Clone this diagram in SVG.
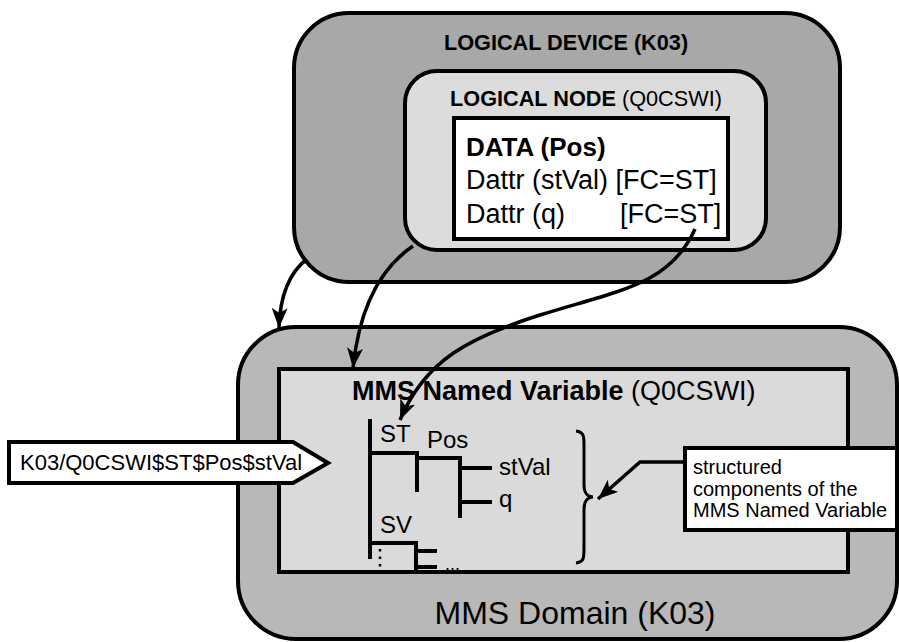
<svg xmlns="http://www.w3.org/2000/svg" width="899" height="642" viewBox="0 0 899 642">
<defs>
<style>
text{font-family:"Liberation Sans",Arial,Helvetica,sans-serif;fill:#000}
.b{font-weight:bold}
.box{stroke:#000;stroke-width:4}
.ln{fill:none;stroke:#000;stroke-width:4}
.con{fill:none;stroke:#000;stroke-width:3.5}
</style>
<marker id="ah" markerUnits="userSpaceOnUse" markerWidth="22" markerHeight="16" refX="20" refY="8" orient="auto">
<path d="M0,0 L20,8 L0,16 L5,8 Z" fill="#000"/>
</marker>
</defs>
<rect width="899" height="642" fill="#fff"/>

<g id="logical-device">
<rect class="box" x="294" y="13" width="546" height="269" rx="55" ry="55" fill="#a8a8a8"/>
<text class="b" x="566" y="50" font-size="21.7" text-anchor="middle">LOGICAL DEVICE (K03)</text>
</g>

<g id="logical-node">
<rect class="box" x="405" y="71" width="361" height="179" rx="32" ry="32" fill="#dcdcdc"/>
<text x="586" y="106" font-size="21.7" text-anchor="middle"><tspan class="b">LOGICAL NODE</tspan> (Q0CSWI)</text>
</g>

<g id="data">
<rect class="box" x="454" y="118" width="274" height="121" fill="#fff"/>
<text class="b" x="466" y="156" font-size="26">DATA (Pos)</text>
<text x="466" y="189" font-size="27">Dattr (stVal) [FC=ST]</text>
<text x="466" y="223" font-size="27">Dattr (q)</text>
<text x="620" y="223" font-size="27">[FC=ST]</text>
</g>

<g id="mms-domain">
<rect class="box" x="238" y="327" width="659" height="312" rx="58" ry="58" fill="#b8b8b8"/>
<text x="575" y="624" font-size="32" text-anchor="middle">MMS Domain (K03)</text>
</g>

<g id="mms-named-variable">
<rect class="box" x="279" y="369" width="569" height="203" fill="#dadada"/>
<text x="352" y="400" font-size="27"><tspan class="b">MMS Named Variable</tspan> (Q0CSWI)</text>
<g id="tree">
<path class="ln" d="M370,419 V559"/>
<path class="ln" d="M370,453 H417 V492"/>
<path class="ln" d="M417,458 H460 V518"/>
<path class="ln" d="M460,468 H492"/>
<path class="ln" d="M460,502 H492"/>
<path class="ln" d="M370,543 H416 V571"/>
<path class="ln" d="M416,551 H437"/>
<path class="ln" d="M416,567 H437"/>
<path d="M380,549 V568" fill="none" stroke="#000" stroke-width="2.5" stroke-dasharray="2.5,5"/>
<text x="380" y="442" font-size="24">ST</text>
<text x="427" y="448" font-size="24">Pos</text>
<text x="499" y="475" font-size="24">stVal</text>
<text x="499" y="507" font-size="24">q</text>
<text x="380" y="533" font-size="24">SV</text>
<text x="445" y="570" font-size="18">...</text>
</g>
<path d="M576,431 C585,432 584,438 584,450 L584,485 C584,493 588,497 593,497 C588,497 584,501 584,509 L584,548 C584,558 584,562 576,563" fill="none" stroke="#000" stroke-width="3"/>
</g>

<g id="path-label">
<path class="box" d="M9,442 H293 L328,463 L293,483 H9 Z" fill="#fff"/>
<text x="20" y="470" font-size="22">K03/Q0CSWI$ST$Pos$stVal</text>
</g>

<g id="callout">
<rect class="box" x="685" y="448" width="212" height="82" fill="#fff"/>
<text x="693" y="474" font-size="20">structured</text>
<text x="693" y="496" font-size="20">components of the</text>
<text x="693" y="517" font-size="20">MMS Named Variable</text>
</g>

<g id="connectors">
<path class="con" d="M307,259 C290,272 280,295 279,328" marker-end="url(#ah)"/>
<path class="con" d="M413,246 C385,265 360,300 353,368" marker-end="url(#ah)"/>
<path class="con" d="M695,229 C670,285 620,290 540,315 C470,337 425,360 400,420" marker-end="url(#ah)"/>
<path class="con" d="M685,462 H640 L598,499" marker-end="url(#ah)"/>
</g>
</svg>
